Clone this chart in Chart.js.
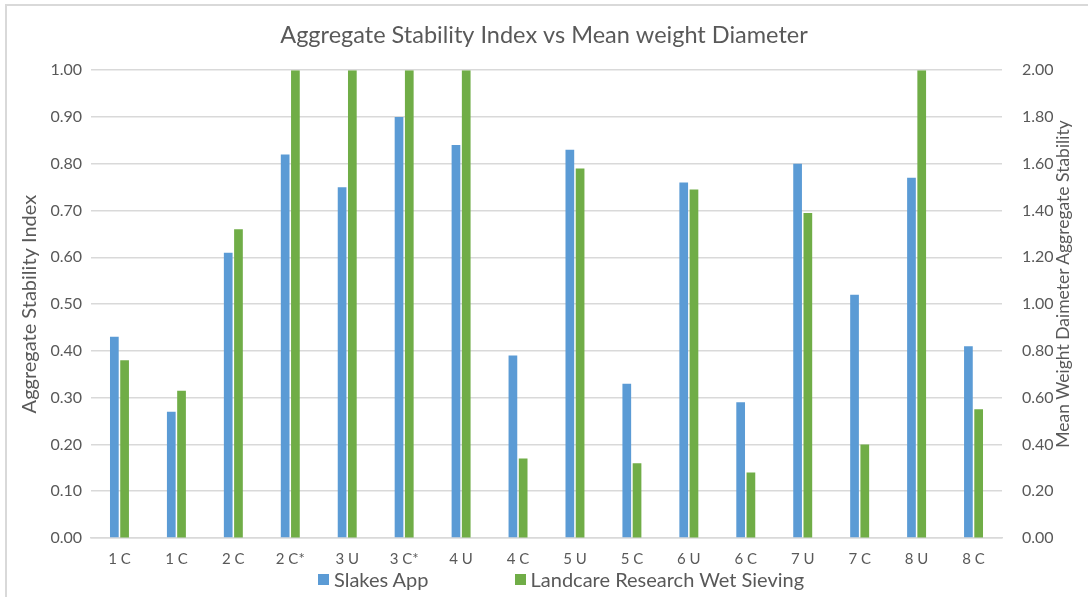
<!DOCTYPE html>
<html>
<head>
<meta charset="utf-8">
<script src="https://cdn.jsdelivr.net/npm/chart.js@4/dist/chart.umd.min.js"></script>
<style>
  html, body { margin: 0; padding: 0; background: #fff; }
  #wrap { position: relative; width: 1088px; height: 597px; overflow: hidden; font-family: Lato, sans-serif; color: #595959; }
  #wrap canvas { position: absolute; left: 0; top: 0; }
  /* only the top and left edges of the chart frame are in the picture */
  #frame { position: absolute; left: 5px; top: 4px; right: -10px; bottom: -10px; border-top: 2px solid #d9d9d9; border-left: 2px solid #d9d9d9; }
  #y1title { position: absolute; left: 1062px; top: 284px; transform: translate(-50%, -50%) rotate(-90deg); white-space: nowrap; font-size: 17.5px; }
  #legend { position: absolute; top: 567px; left: 318px; display: flex; gap: 86px; font-size: 20px; }
  #legend span.item { display: flex; align-items: center; }
  #legend i { display: inline-block; width: 11px; height: 11px; margin-right: 5px; }
</style>
</head>
<body>
<div id="wrap">
  <canvas id="chart" width="1088" height="597"></canvas>
  <div id="frame"></div>
  <div id="y1title">Mean Weight Daimeter Aggregate Stability</div>
  <div id="legend"></div>
</div>
<script>
// values
const categories = ["1 C", "1 C", "2 C", "2 C*", "3 U", "3 C*", "4 U", "4 C",
                    "5 U", "5 C", "6 U", "6 C", "7 U", "7 C", "8 U", "8 C"];
const slakesApp = [0.43, 0.27, 0.61, 0.82, 0.75, 0.90, 0.84, 0.39,
                   0.83, 0.33, 0.76, 0.29, 0.80, 0.52, 0.77, 0.41];
const wetSieving = [0.76, 0.63, 1.32, 2.00, 2.00, 2.00, 2.00, 0.34,
                    1.58, 0.32, 1.49, 0.28, 1.39, 0.40, 2.00, 0.55];

const TEXT = "#595959";
const GRID = "#d9d9d9";
const BLUE = "#5B9BD5";
const GREEN = "#70AD47";
const FONT = "Lato, sans-serif";

const series = [
  { label: "Slakes App", data: slakesApp, color: BLUE, axis: "y" },
  { label: "Landcare Research Wet Sieving", data: wetSieving, color: GREEN, axis: "y1" },
];

// legend kept in html so the item spacing can follow the picture
const legendEl = document.getElementById("legend");
series.forEach((s) => {
  const item = document.createElement("span");
  item.className = "item";
  item.innerHTML = `<i style="background:${s.color}"></i>${s.label}`;
  legendEl.appendChild(item);
});

new Chart(document.getElementById("chart"), {
  type: "bar",
  data: {
    labels: categories,
    datasets: series.map((s) => ({
      label: s.label,
      data: s.data,
      yAxisID: s.axis,
      backgroundColor: s.color,
      borderWidth: 0,
      categoryPercentage: 0.36,
      barPercentage: 0.85,
    })),
  },
  options: {
    responsive: false,
    animation: false,
    layout: { padding: { left: 0, right: 0, top: 0, bottom: 29 } },
    plugins: {
      legend: { display: false },
      tooltip: { enabled: false },
      title: {
        display: true,
        text: "Aggregate Stability Index vs Mean weight Diameter",
        color: TEXT,
        font: { family: FONT, size: 23.5, weight: "normal" },
        padding: { top: 21, bottom: 21 },
      },
    },
    scales: {
      x: {
        grid: { display: false, drawTicks: false },
        border: { display: true, color: GRID, width: 1.5 },
        ticks: { color: TEXT, font: { family: FONT, size: 15 }, padding: 12, autoSkip: false, maxRotation: 0 },
        afterFit: (scale) => { scale.height = 30; },
      },
      y: {
        position: "left",
        min: 0,
        max: 1,
        grid: { color: GRID, lineWidth: 1.5, drawTicks: false },
        border: { display: false },
        ticks: {
          stepSize: 0.1,
          color: TEXT,
          font: { family: FONT, size: 16 },
          padding: 9,
          callback: (v) => v.toFixed(2),
        },
        title: {
          display: true,
          text: "Aggregate Stability Index",
          color: TEXT,
          font: { family: FONT, size: 20 },
          padding: { top: 18, bottom: 0 },
        },
        afterFit: (scale) => { scale.width = 91; },
      },
      y1: {
        position: "right",
        min: 0,
        max: 2,
        grid: { drawOnChartArea: false, drawTicks: false },
        border: { display: false },
        ticks: {
          stepSize: 0.2,
          color: TEXT,
          font: { family: FONT, size: 16 },
          padding: 20,
          callback: (v) => v.toFixed(2),
        },
        afterFit: (scale) => { scale.width = 86; },
      },
    },
  },
});
</script>
</body>
</html>
